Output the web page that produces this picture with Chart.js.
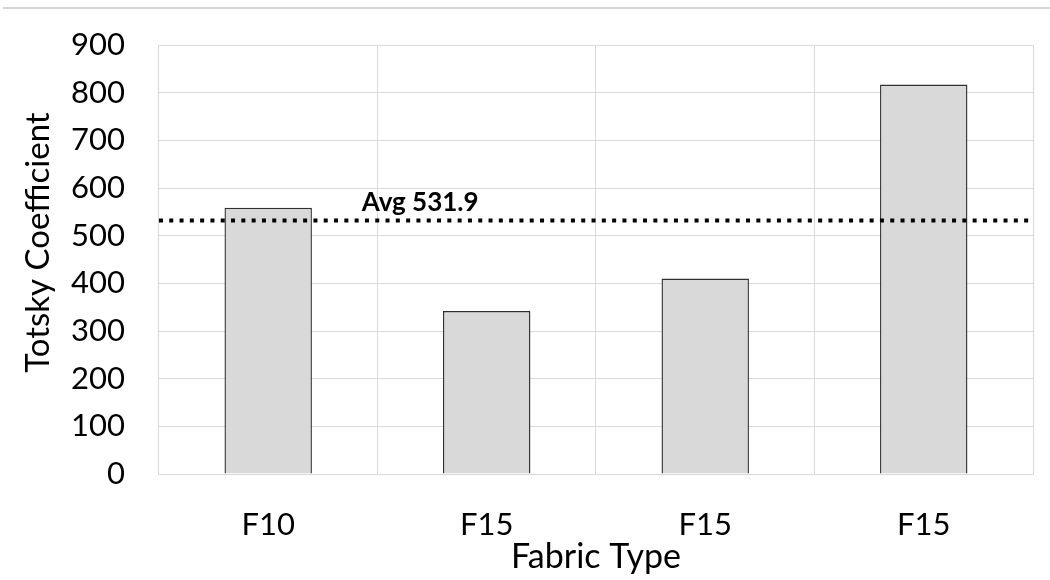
<!DOCTYPE html>
<html>
<head>
<meta charset="utf-8">
<title>Totsky Coefficient by Fabric Type</title>
<script src="https://cdn.jsdelivr.net/npm/chart.js@4/dist/chart.umd.min.js"></script>
<style>
  html, body { margin: 0; padding: 0; background: #ffffff; }
  #wrap { width: 1050px; height: 580px; }
</style>
</head>
<body>
<div id="wrap"><canvas id="chart" width="1050" height="580"></canvas></div>
<script>
// Fabric samples and their measured Totsky coefficients
const categories = ['F10', 'F15', 'F15', 'F15'];
const totskyValues = [558.6, 342.0, 410.0, 817.0];
const avgValue = 531.9;
const avgLabel = 'Avg 531.9';
const yTicks = [0, 100, 200, 300, 400, 500, 600, 700, 800, 900];
const yTitle = 'Totsky Coefficient';
const xTitle = 'Fabric Type';

const FONT = 'Lato, "Noto Sans", sans-serif';

// Thin rule across the top of the figure
const topRule = {
  id: 'topRule',
  beforeDraw(chart) {
    const ctx = chart.ctx;
    ctx.save();
    ctx.strokeStyle = '#c6c6c6';
    ctx.lineWidth = 1.5;
    ctx.beginPath();
    ctx.moveTo(3, 8);
    ctx.lineTo(chart.width, 8);
    ctx.stroke();
    ctx.restore();
  }
};

// Rotated value-axis title, sitting a little above the plot's middle
const valueAxisTitle = {
  id: 'valueAxisTitle',
  afterDraw(chart) {
    const { ctx, chartArea } = chart;
    const cy = (chartArea.top + chartArea.bottom) / 2 - 17;
    ctx.save();
    ctx.translate(38.5, cy);
    ctx.rotate(-Math.PI / 2);
    ctx.fillStyle = '#000000';
    ctx.font = '33px ' + FONT;
    ctx.textAlign = 'center';
    ctx.textBaseline = 'middle';
    ctx.fillText(yTitle, 0, 0);
    ctx.restore();
  }
};

// Dotted average line spanning the plot area, with its label
const averageLine = {
  id: 'averageLine',
  afterDatasetsDraw(chart) {
    const { ctx, chartArea, scales } = chart;
    const y = scales.y.getPixelForValue(avgValue);
    ctx.save();
    ctx.strokeStyle = '#000000';
    ctx.lineWidth = 4;
    ctx.lineCap = 'butt';
    ctx.setLineDash([4, 6.3]);
    ctx.beginPath();
    ctx.moveTo(chartArea.left, y);
    ctx.lineTo(chartArea.right - 2, y);
    ctx.stroke();
    ctx.setLineDash([]);
    ctx.fillStyle = '#000000';
    ctx.font = 'bold 26px ' + FONT;
    ctx.textAlign = 'left';
    ctx.textBaseline = 'alphabetic';
    ctx.fillText(avgLabel, chartArea.left + 0.232 * (chartArea.right - chartArea.left), y - 9);
    ctx.restore();
  }
};

const clear = 'rgba(0,0,0,0)';

new Chart(document.getElementById('chart'), {
  type: 'bar',
  data: {
    labels: categories,
    datasets: [{
      label: yTitle,
      data: totskyValues,
      backgroundColor: '#d9d9d9',
      borderColor: '#303030',
      borderWidth: 1.4,
      borderSkipped: 'bottom',
      categoryPercentage: 1.0,
      barPercentage: 0.4
    }]
  },
  options: {
    responsive: false,
    animation: false,
    devicePixelRatio: 1,
    layout: { padding: { top: 45, right: 17, left: 71, bottom: 19.5 } },
    plugins: {
      legend: { display: false },
      tooltip: { enabled: false }
    },
    scales: {
      x: {
        grid: { color: '#d9d9d9', lineWidth: 1, drawTicks: true, tickLength: 35, tickColor: clear, offset: true },
        border: { color: '#d9d9d9', width: 1 },
        ticks: {
          color: '#000000',
          font: { family: FONT, size: 31, lineHeight: 1 },
          padding: 0
        },
        title: {
          display: true,
          text: xTitle,
          color: '#000000',
          font: { family: FONT, size: 34, lineHeight: 1 },
          padding: { top: 0, bottom: -13.5 }
        }
      },
      y: {
        min: 0,
        max: 900,
        afterBuildTicks(scale) {
          scale.ticks = yTicks.map(v => ({ value: v }));
        },
        grid: { color: '#d9d9d9', lineWidth: 1, drawTicks: true, tickLength: 34, tickColor: clear },
        border: { color: '#d9d9d9', width: 1 },
        ticks: {
          color: '#000000',
          font: { family: FONT, size: 31, lineHeight: 1 },
          padding: 0
        },
        title: { display: false }
      }
    }
  },
  plugins: [topRule, averageLine, valueAxisTitle]
});
</script>
</body>
</html>
